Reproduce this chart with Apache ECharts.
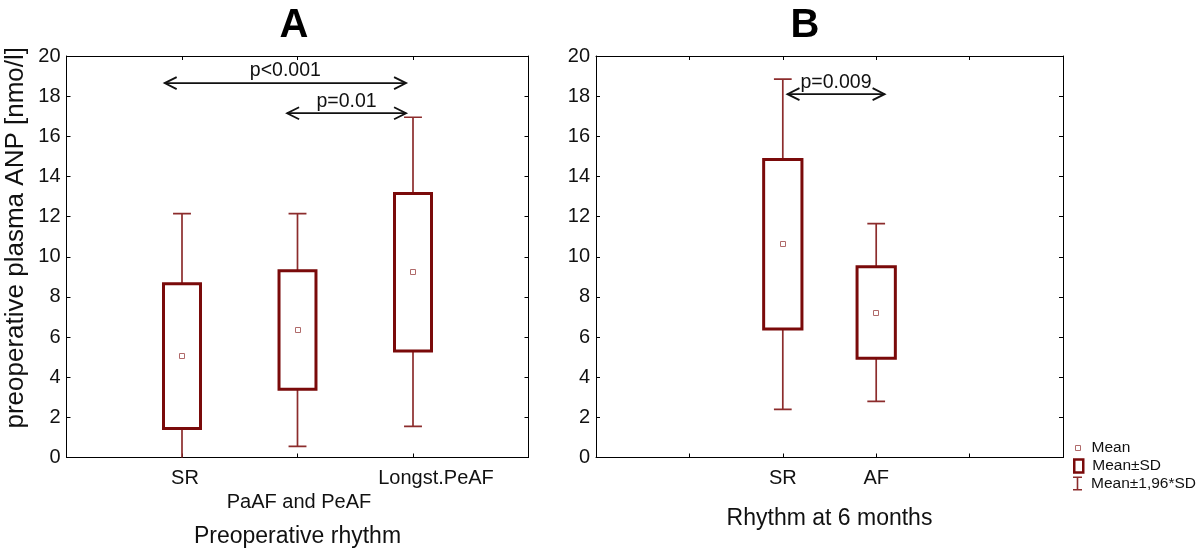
<!DOCTYPE html>
<html><head><meta charset="utf-8">
<script src="https://cdn.jsdelivr.net/npm/echarts@6/dist/echarts.min.js"></script>
<style>html,body{margin:0;padding:0;background:#fff}#c{width:1200px;height:550px}</style>
</head><body><div id="c"></div>
<script>
// ---- Panel A data ----
const categoriesA = ['SR', 'PaAF and PeAF', 'Longst.PeAF'];
const positionsA = [1, 2, 3];
const meanA = [5.05, 6.35, 9.25];
const sdLowA = [1.45, 3.4, 5.3];
const sdHighA = [8.65, 9.3, 13.15];
const ciLowA = [-2.0, 0.55, 1.55];
const ciHighA = [12.15, 12.15, 16.95];
const arrowFromA = [0.85, 1.91];
const arrowToA = [2.94, 2.94];
const arrowYA = [18.65, 17.15];
const arrowLabelA = ['p<0.001', 'p=0.01'];

// ---- Panel B data ----
const categoriesB = ['SR', 'AF'];
const positionsB = [2, 3];
const meanB = [10.65, 7.2];
const sdLowB = [6.4, 4.95];
const sdHighB = [14.85, 9.5];
const ciLowB = [2.4, 2.8];
const ciHighB = [18.85, 11.65];
const arrowFromB = [2.05];
const arrowToB = [3.09];
const arrowYB = [18.1];
const arrowLabelB = ['p=0.009'];

// ---- ticks / texts ----
const yMin = 0, yMax = 20, yStep = 2;
const titlesText = ['A', 'B'];
const yAxisTitle = 'preoperative plasma ANP [nmo/l]';
const xAxisTitles = ['Preoperative rhythm', 'Rhythm at 6 months'];
const legendNames = ['Mean', 'Mean±SD', 'Mean±1,96*SD'];

// ---- styles ----
const FONT = 'Liberation Sans, Arial, Helvetica, sans-serif';
const BOX_COLOR = '#7a0a0a';
const WHISK_COLOR = '#8c2c2c';
const MEAN_COLOR = '#b06a6a';
const TXT = '#111';
const TICK_FS = 20;

const chart = echarts.init(document.getElementById('c'));

function whiskerRender(capW) {
  return function (params, api) {
    const x = api.value(0);
    const lo = api.coord([x, api.value(1)]);
    const hi = api.coord([x, api.value(2)]);
    const w = api.size([capW, 0])[0];
    const style = { stroke: WHISK_COLOR, lineWidth: 1.7, fill: null };
    return { type: 'group', children: [
      { type: 'line', shape: { x1: lo[0], y1: lo[1], x2: hi[0], y2: hi[1] }, style },
      { type: 'line', shape: { x1: lo[0] - w / 2, y1: lo[1], x2: lo[0] + w / 2, y2: lo[1] }, style },
      { type: 'line', shape: { x1: hi[0] - w / 2, y1: hi[1], x2: hi[0] + w / 2, y2: hi[1] }, style }
    ]};
  };
}
function boxRender(boxW) {
  return function (params, api) {
    const x = api.value(0);
    const lo = api.coord([x, api.value(1)]);
    const hi = api.coord([x, api.value(2)]);
    const w = api.size([boxW, 0])[0];
    return { type: 'rect', shape: { x: lo[0] - w / 2, y: hi[1], width: w, height: lo[1] - hi[1] },
      style: { fill: '#fff', stroke: BOX_COLOR, lineWidth: 3 } };
  };
}
function meanRender(params, api) {
  const p = api.coord([api.value(0), api.value(1)]);
  return { type: 'rect', shape: { x: Math.round(p[0]) - 2.5, y: Math.round(p[1]) - 2.5, width: 5, height: 5 },
    style: { fill: '#fff', stroke: MEAN_COLOR, lineWidth: 1 } };
}
function arrowRender(labels) {
  return function (params, api) {
    const a = api.coord([api.value(0), api.value(2)]);
    const b = api.coord([api.value(1), api.value(2)]);
    const st = { stroke: '#111', lineWidth: 1.8, fill: null };
    const L = 12, H = 6;
    return { type: 'group', children: [
      { type: 'line', shape: { x1: a[0], y1: a[1], x2: b[0], y2: b[1] }, style: st },
      { type: 'polyline', shape: { points: [[a[0] + L, a[1] - H], [a[0], a[1]], [a[0] + L, a[1] + H]] }, style: st },
      { type: 'polyline', shape: { points: [[b[0] - L, b[1] - H], [b[0], b[1]], [b[0] - L, b[1] + H]] }, style: st },
      { type: 'text', x: (a[0] + b[0]) / 2, y: a[1] - 12,
        style: { text: labels[params.dataIndex], fontSize: 19.5, fontFamily: FONT, fill: TXT, align: 'center', verticalAlign: 'middle' } }
    ]};
  };
}

function rows(pos, a, b) { return pos.map((p, i) => b ? [p, a[i], b[i]] : [p, a[i]]); }

const grids = [
  { left: 66.5, top: 56, width: 462, height: 401.5, containLabel: false, outerBoundsMode: 'none' },
  { left: 596, top: 56, width: 467, height: 401.5, containLabel: false, outerBoundsMode: 'none' }
];

const lineStyleAxis = { show: true, onZero: false, lineStyle: { color: '#000', width: 1 } };
const tickStyle = { show: true, inside: true, length: 4, lineStyle: { color: '#000' } };

function xAxesFor(gi, max, positions, cats, rich, nameGap) {
  const base = { gridIndex: gi, type: 'value', min: 0, max: max, interval: 1,
    axisLine: lineStyleAxis, axisTick: tickStyle, splitLine: { show: false } };
  return [
    Object.assign({}, base, { position: 'bottom',
      name: xAxisTitles[gi], nameLocation: 'middle', nameGap: nameGap,
      nameTextStyle: { fontSize: 23, fontFamily: FONT, color: TXT },
      axisLabel: { show: true, margin: 11, fontSize: TICK_FS, fontFamily: FONT, color: TXT,
        formatter: function (v) { const i = positions.indexOf(v); return i < 0 ? '' : '{l' + i + '|' + cats[i] + '}'; },
        rich: rich } }),
    Object.assign({}, base, { position: 'top', axisLabel: { show: false } })
  ];
}
function yAxesFor(gi, withName) {
  const base = { gridIndex: gi, type: 'value', min: yMin, max: yMax, interval: yStep,
    axisLine: lineStyleAxis, axisTick: tickStyle, splitLine: { show: false } };
  const left = Object.assign({}, base, { position: 'left',
    axisLabel: { show: true, margin: 6, fontSize: TICK_FS, fontFamily: FONT, color: TXT } });
  if (withName) Object.assign(left, { name: yAxisTitle, nameLocation: 'middle', nameGap: 38,
    nameTextStyle: { fontSize: 26, fontFamily: FONT, color: TXT, padding: [0, 0, 0, 38] } });
  return [left, Object.assign({}, base, { position: 'right', axisLabel: { show: false } })];
}

const rs = { fontSize: TICK_FS, fontFamily: FONT, color: TXT };
const richA = { l0: Object.assign({}, rs, { padding: [0, 0, 0, 6] }),
  l1: Object.assign({}, rs, { padding: [24, 0, 0, 3] }),
  l2: Object.assign({}, rs, { padding: [0, 0, 0, 46] }) };
const richB = { l0: Object.assign({}, rs), l1: Object.assign({}, rs) };

const xAxis = [].concat(xAxesFor(0, 4, positionsA, categoriesA, richA, 68), xAxesFor(1, 5, positionsB, categoriesB, richB, 50));
const yAxis = [].concat(yAxesFor(0, true), yAxesFor(1, false));

function panelSeries(xi, yi, positions, mean, sdLow, sdHigh, ciLow, ciHigh, boxW, capW, af, at, ay, al) {
  return [
    { type: 'custom', name: legendNames[2], xAxisIndex: xi, yAxisIndex: yi, clip: true,
      renderItem: whiskerRender(capW), encode: { x: 0, y: [1, 2] }, data: rows(positions, ciLow, ciHigh), itemStyle: { color: WHISK_COLOR } },
    { type: 'custom', name: legendNames[1], xAxisIndex: xi, yAxisIndex: yi, clip: true,
      renderItem: boxRender(boxW), encode: { x: 0, y: [1, 2] }, data: rows(positions, sdLow, sdHigh), itemStyle: { color: BOX_COLOR } },
    { type: 'custom', name: legendNames[0], xAxisIndex: xi, yAxisIndex: yi, clip: true,
      renderItem: meanRender, encode: { x: 0, y: 1 }, data: rows(positions, mean), itemStyle: { color: MEAN_COLOR } },
    { type: 'custom', name: 'arrows', xAxisIndex: xi, yAxisIndex: yi, silent: true,
      renderItem: arrowRender(al), encode: { x: [0, 1], y: 2 }, data: af.map((f, i) => [f, at[i], ay[i]]) }
  ];
}

const series = [].concat(
  panelSeries(0, 0, positionsA, meanA, sdLowA, sdHighA, ciLowA, ciHighA, 0.32, 0.155, arrowFromA, arrowToA, arrowYA, arrowLabelA),
  panelSeries(2, 2, positionsB, meanB, sdLowB, sdHighB, ciLowB, ciHighB, 0.41, 0.19, arrowFromB, arrowToB, arrowYB, arrowLabelB)
);

const legTxt = { fontSize: 15.5, fontFamily: FONT, color: TXT };
const legend = [
  { left: 1075, top: 440, padding: 0, itemWidth: 5, itemHeight: 5, selectedMode: false,
    textStyle: Object.assign({}, legTxt, { padding: [0, 0, 0, 6] }),
    data: [{ name: legendNames[0], icon: 'rect', itemStyle: { color: '#fff', borderColor: MEAN_COLOR, borderWidth: 1 } }] },
  { left: 1073, top: 458, padding: 0, itemWidth: 9, itemHeight: 13, selectedMode: false,
    textStyle: Object.assign({}, legTxt, { padding: [0, 0, 0, 4] }),
    data: [{ name: legendNames[1], icon: 'rect', itemStyle: { color: '#fff', borderColor: BOX_COLOR, borderWidth: 2.5 } }] },
  { left: 1073, top: 475.5, padding: 0, itemWidth: 9, itemHeight: 14, selectedMode: false,
    textStyle: Object.assign({}, legTxt, { padding: [0, 0, 0, 4] }),
    data: [{ name: legendNames[2], icon: 'path://M0,0H9V1.6H5.3V12.4H9V14H0V12.4H3.7V1.6H0Z', itemStyle: { color: WHISK_COLOR, borderWidth: 0 } }] }
];

chart.setOption({
  animation: false,
  backgroundColor: '#fff',
  title: [
    { text: titlesText[0], left: 289, top: 1, textAlign: 'center', textStyle: { fontSize: 40, fontWeight: 'bold', fontFamily: FONT, color: '#000' } },
    { text: titlesText[1], left: 800, top: 1, textAlign: 'center', textStyle: { fontSize: 40, fontWeight: 'bold', fontFamily: FONT, color: '#000' } }
  ],
  grid: grids,
  xAxis: xAxis,
  yAxis: yAxis,
  legend: legend,
  series: series
});
</script>
</body></html>
